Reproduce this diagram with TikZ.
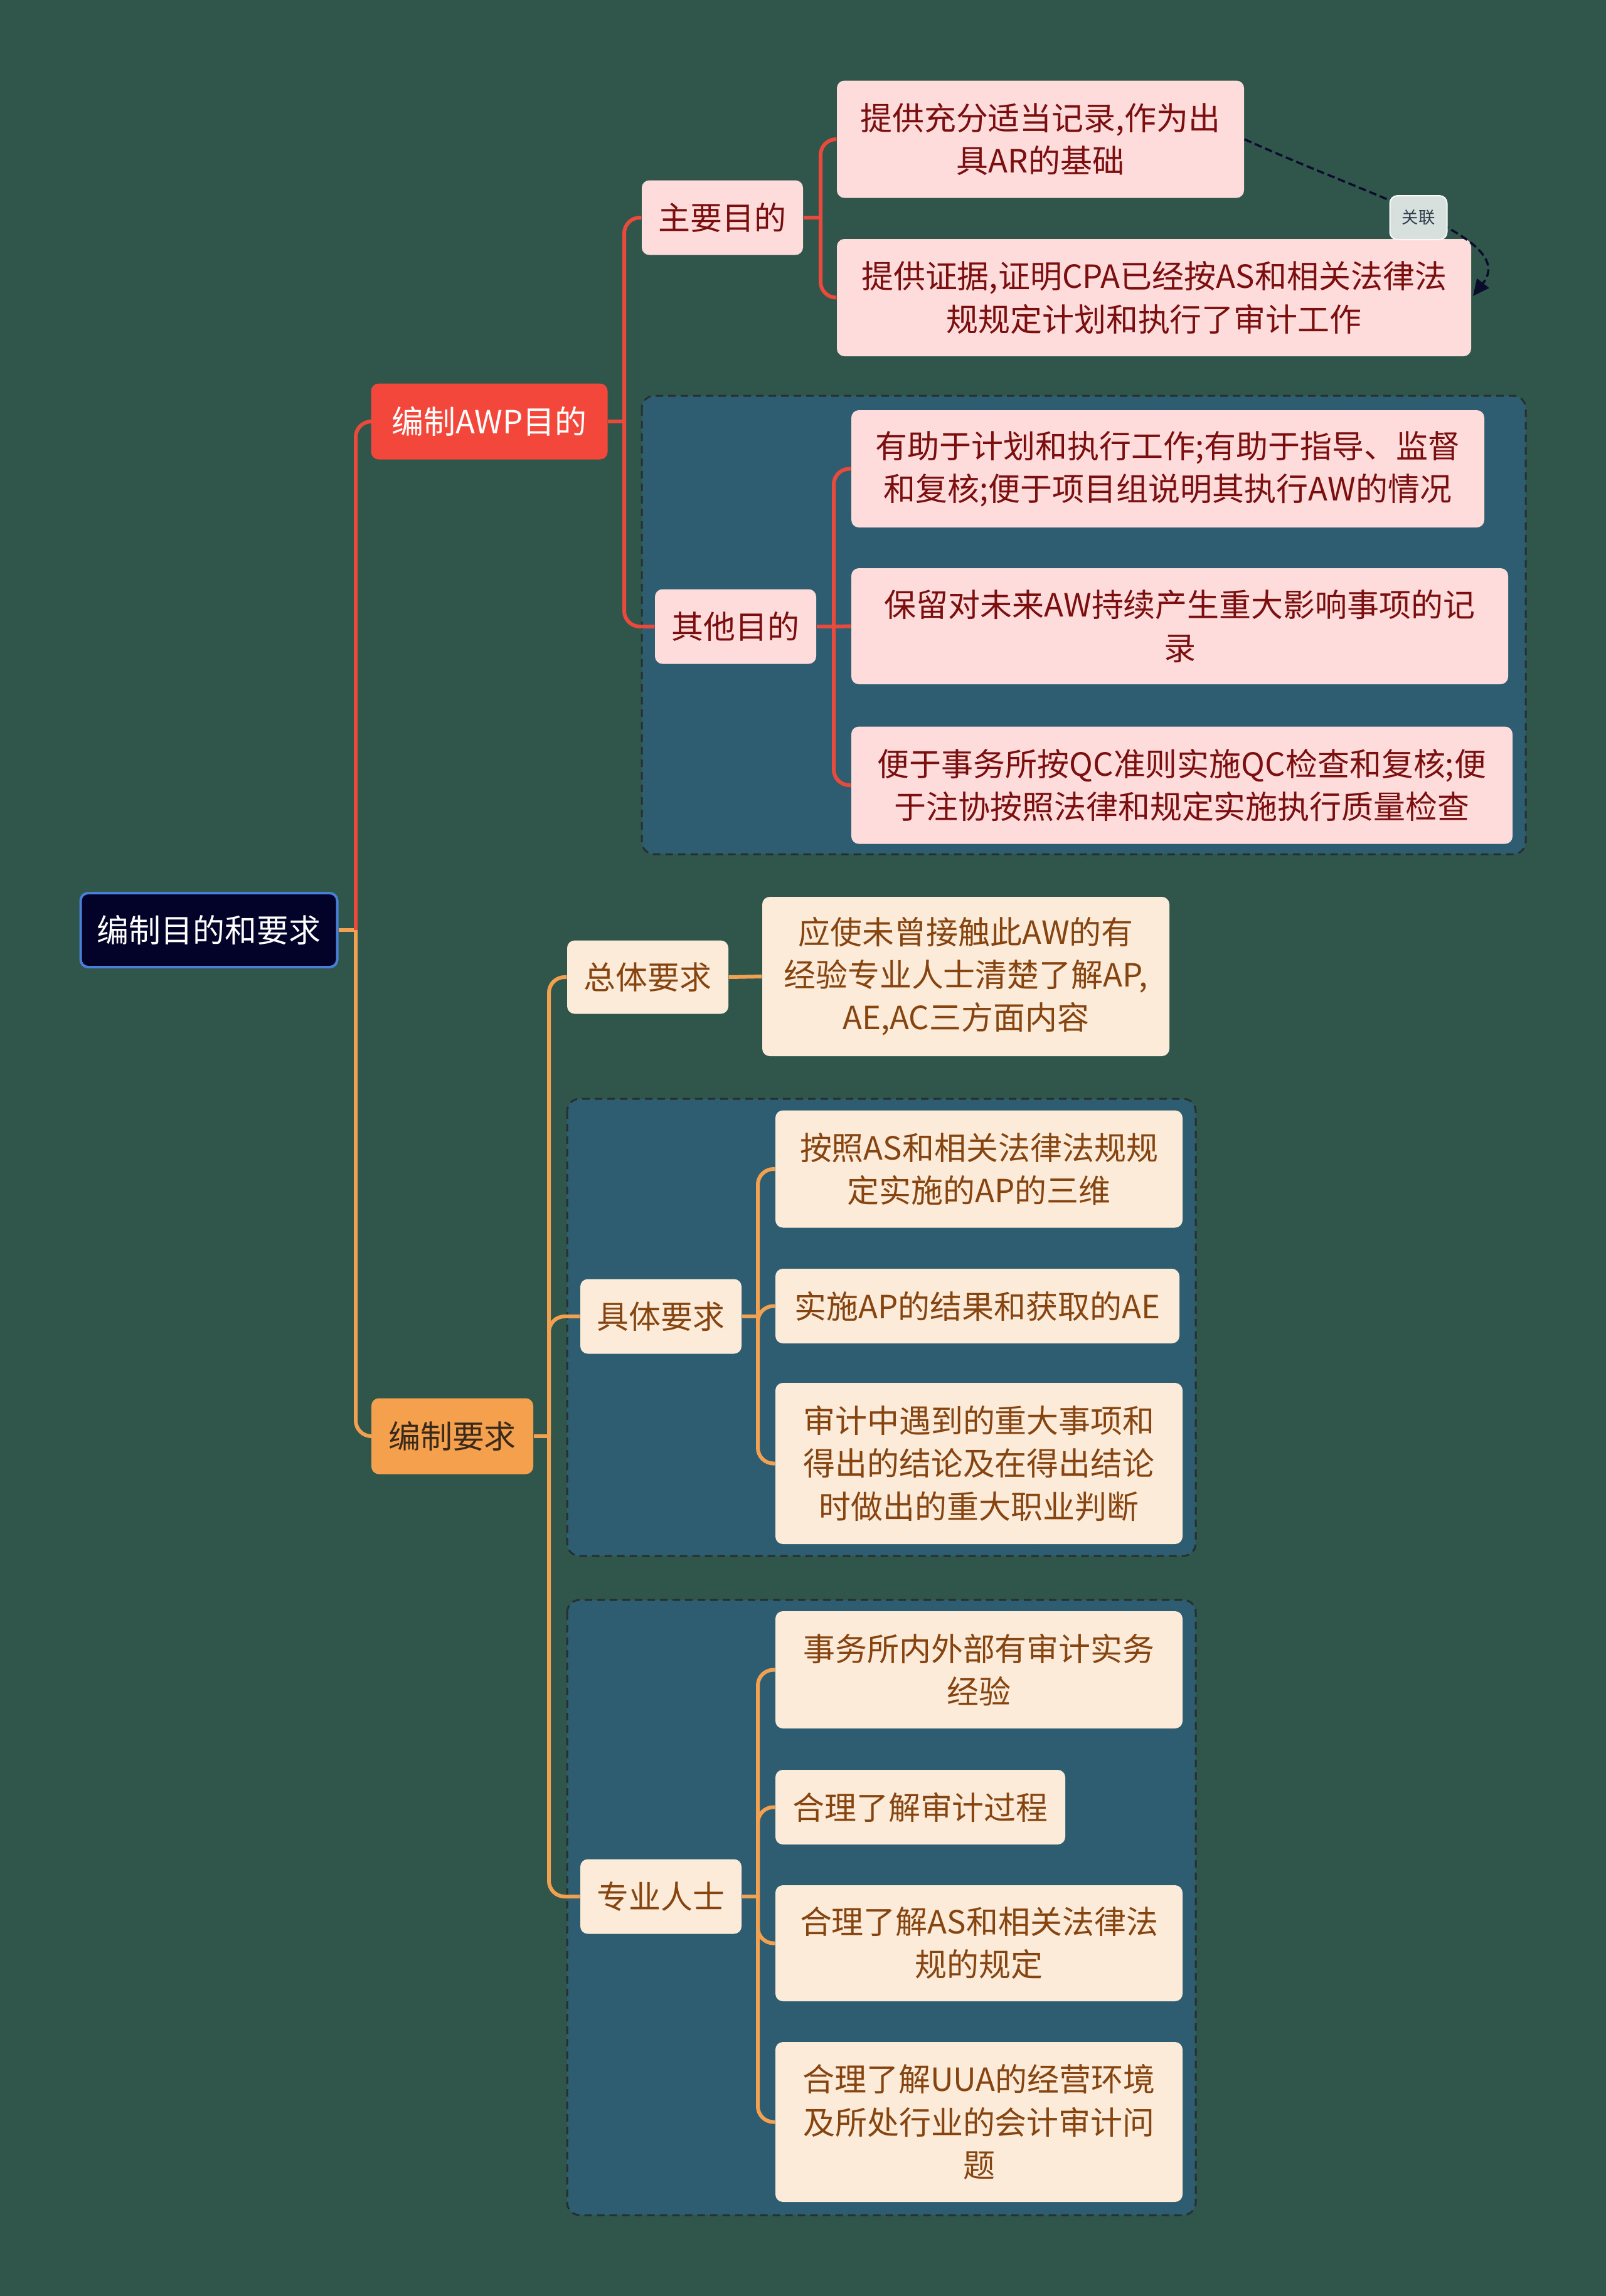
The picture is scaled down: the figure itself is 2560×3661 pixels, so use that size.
\documentclass[tikz,border=0pt]{standalone}
\usepackage{fontspec}
\setmainfont{Noto Sans CJK SC}
\usetikzlibrary{arrows.meta}
\definecolor{bg}{HTML}{30564B}
\definecolor{grp}{HTML}{2E5D72}
\definecolor{grpedge}{HTML}{25302F}
\definecolor{pinkfill}{HTML}{FEDCDB}
\definecolor{pinktext}{HTML}{7B0E0E}
\definecolor{creamfill}{HTML}{FDEBDA}
\definecolor{creamtext}{HTML}{864510}
\definecolor{redline}{HTML}{EA4A3C}
\definecolor{orangeline}{HTML}{F2A150}
\definecolor{awpfill}{HTML}{F4473C}
\definecolor{reqfill}{HTML}{F5A04C}
\definecolor{reqtext}{HTML}{3A2A1C}
\definecolor{rootfill}{HTML}{03032A}
\definecolor{rootedge}{HTML}{4A7FD8}
\definecolor{relcol}{HTML}{0B0B2B}
\definecolor{labfill}{HTML}{D8E0DE}
\definecolor{labtext}{HTML}{2F3F4F}
\tikzset{
  box/.style={rounded corners=1.2mm, inner sep=0pt, align=center,
    font=\fontsize{14.5pt}{19.4pt}\selectfont},
  pinkbox/.style={box, fill=pinkfill, text=pinktext},
  creambox/.style={box, fill=creamfill, text=creamtext},
  grpbox/.style={rounded corners=2mm, fill=grp, draw=grpedge, line width=0.3mm, dash pattern=on 1.2mm off 0.8mm},
  rl/.style={draw=redline, line width=0.6mm, rounded corners=2.5mm},
  ol/.style={draw=orangeline, line width=0.6mm, rounded corners=2.5mm},
}
\newcommand\bx[6]{\node[#1, minimum width=#4*0.1mm, minimum height=#5*0.1mm] (#2) at (#3) {#6};}
\begin{document}
\begin{tikzpicture}[x=0.1mm,y=-0.1mm]
\fill[bg] (0,0) rectangle (2560,3661);
\useasboundingbox (0,0) rectangle (2560,3661);
% group boxes
\path[grpbox] (1023,631) rectangle (2432,1362);
\path[grpbox] (904,1752) rectangle (1906,2481);
\path[grpbox] (904,2551) rectangle (1906,3532);
% nodes
\bx{box, fill=rootfill, draw=rootedge, line width=0.4mm, text=white}{root}{333,1483}{409}{118}{编制目的和要求}
\bx{box, fill=awpfill, text=white}{awp}{780,672}{377}{121}{编制AWP目的}
\bx{box, fill=reqfill, text=reqtext}{req}{721,2290}{258}{121}{编制要求}
\bx{pinkbox}{zy}{1151.5,347}{257}{119}{主要目的}
\bx{pinkbox}{qt}{1172.5,999}{257}{119}{其他目的}
\bx{pinkbox}{A1}{1658.5,222}{649}{187}{提供充分适当记录,作为出\\具AR的基础}
\bx{pinkbox}{A2}{1839.5,474.5}{1011}{187}{提供证据,证明CPA已经按AS和相关法律法\\规规定计划和执行了审计工作}
\bx{pinkbox}{B1}{1861.5,747.5}{1009}{187}{有助于计划和执行工作;有助于指导、监督\\和复核;便于项目组说明其执行AW的情况}
\bx{pinkbox}{B2}{1880.5,998.5}{1047}{185}{保留对未来AW持续产生重大影响事项的记\\录}
\bx{pinkbox}{B3}{1884,1252}{1054}{187}{便于事务所按QC准则实施QC检查和复核;便\\于注协按照法律和规定实施执行质量检查}
\bx{creambox}{zt}{1032.5,1558}{257}{117}{总体要求}
\bx{creambox}{C}{1539.5,1557}{649}{254}{应使未曾接触此AW的有\\经验专业人士清楚了解AP,\\AE,AC三方面内容}
\bx{creambox}{jt}{1053.5,2099}{257}{119}{具体要求}
\bx{creambox}{D1}{1560.5,1864}{649}{187}{按照AS和相关法律法规规\\定实施的AP的三维}
\bx{creambox}{D2}{1558,2082.5}{644}{119}{实施AP的结果和获取的AE}
\bx{creambox}{D3}{1560.5,2333.5}{649}{257}{审计中遇到的重大事项和\\得出的结论及在得出结论\\时做出的重大职业判断}
\bx{creambox}{zr}{1053.5,3024}{257}{119}{专业人士}
\bx{creambox}{E1}{1560.5,2662.5}{649}{187}{事务所内外部有审计实务\\经验}
\bx{creambox}{E2}{1467,2881.5}{462}{119}{合理了解审计过程}
\bx{creambox}{E3}{1560.5,3098.5}{649}{185}{合理了解AS和相关法律法\\规的规定}
\bx{creambox}{E4}{1560.5,3383.5}{649}{255}{合理了解UUA的经营环境\\及所处行业的会计审计问\\题}
% trunk coordinates
\coordinate (t0) at (567,1483);
\coordinate (t1) at (995,672);
\coordinate (t2) at (1308,347);
\coordinate (t3) at (1329,999);
\coordinate (t4) at (875,2290);
\coordinate (t5) at (1208,2099);
\coordinate (t6) at (1208,3024);
% connectors
\draw[ol] (root.east) -- (t0);
\draw[rl] (t0) |- (awp.west);
\draw[ol] (t0) |- (req.west);
\draw[rl] (awp.east) -- (t1);
\draw[rl] (t1) |- (zy.west);
\draw[rl] (t1) |- (qt.west);
\draw[rl] (zy.east) -- (t2);
\draw[rl] (t2) |- (A1.west);
\draw[rl] (t2) |- (A2.west);
\draw[rl] (qt.east) -- (t3);
\draw[rl] (t3) |- (B1.west);
\draw[rl] (t3) -- (B2.west);
\draw[rl] (t3) |- (B3.west);
\draw[ol] (req.east) -- (t4);
\draw[ol] (t4) |- (zt.west);
\draw[ol] (t4) |- (jt.west);
\draw[ol] (t4) |- (zr.west);
\draw[ol] (zt.east) -- (C.west);
\draw[ol] (jt.east) -- (t5);
\draw[ol] (t5) |- (D1.west);
\draw[ol] (t5) |- (D2.west);
\draw[ol] (t5) |- (D3.west);
\draw[ol] (zr.east) -- (t6);
\draw[ol] (t6) |- (E1.west);
\draw[ol] (t6) |- (E2.west);
\draw[ol] (t6) |- (E3.west);
\draw[ol] (t6) |- (E4.west);
% relation
\coordinate (relend) at (2348,472);
\draw[relcol, line width=0.35mm, dash pattern=on 1.2mm off 0.6mm, -{Triangle[length=2.6mm,width=2.4mm]}]
  (A1.east) .. controls (2200,320) and (2420,380) .. (relend);
\node[rounded corners=1.2mm, fill=labfill, draw=white!85!labfill, line width=0.2mm, text=labtext,
  minimum width=9.1mm, minimum height=7mm, inner sep=0pt, font=\fontsize{7.5pt}{9pt}\selectfont]
  (lab) at (2261,347) {关联};
\end{tikzpicture}
\end{document}
